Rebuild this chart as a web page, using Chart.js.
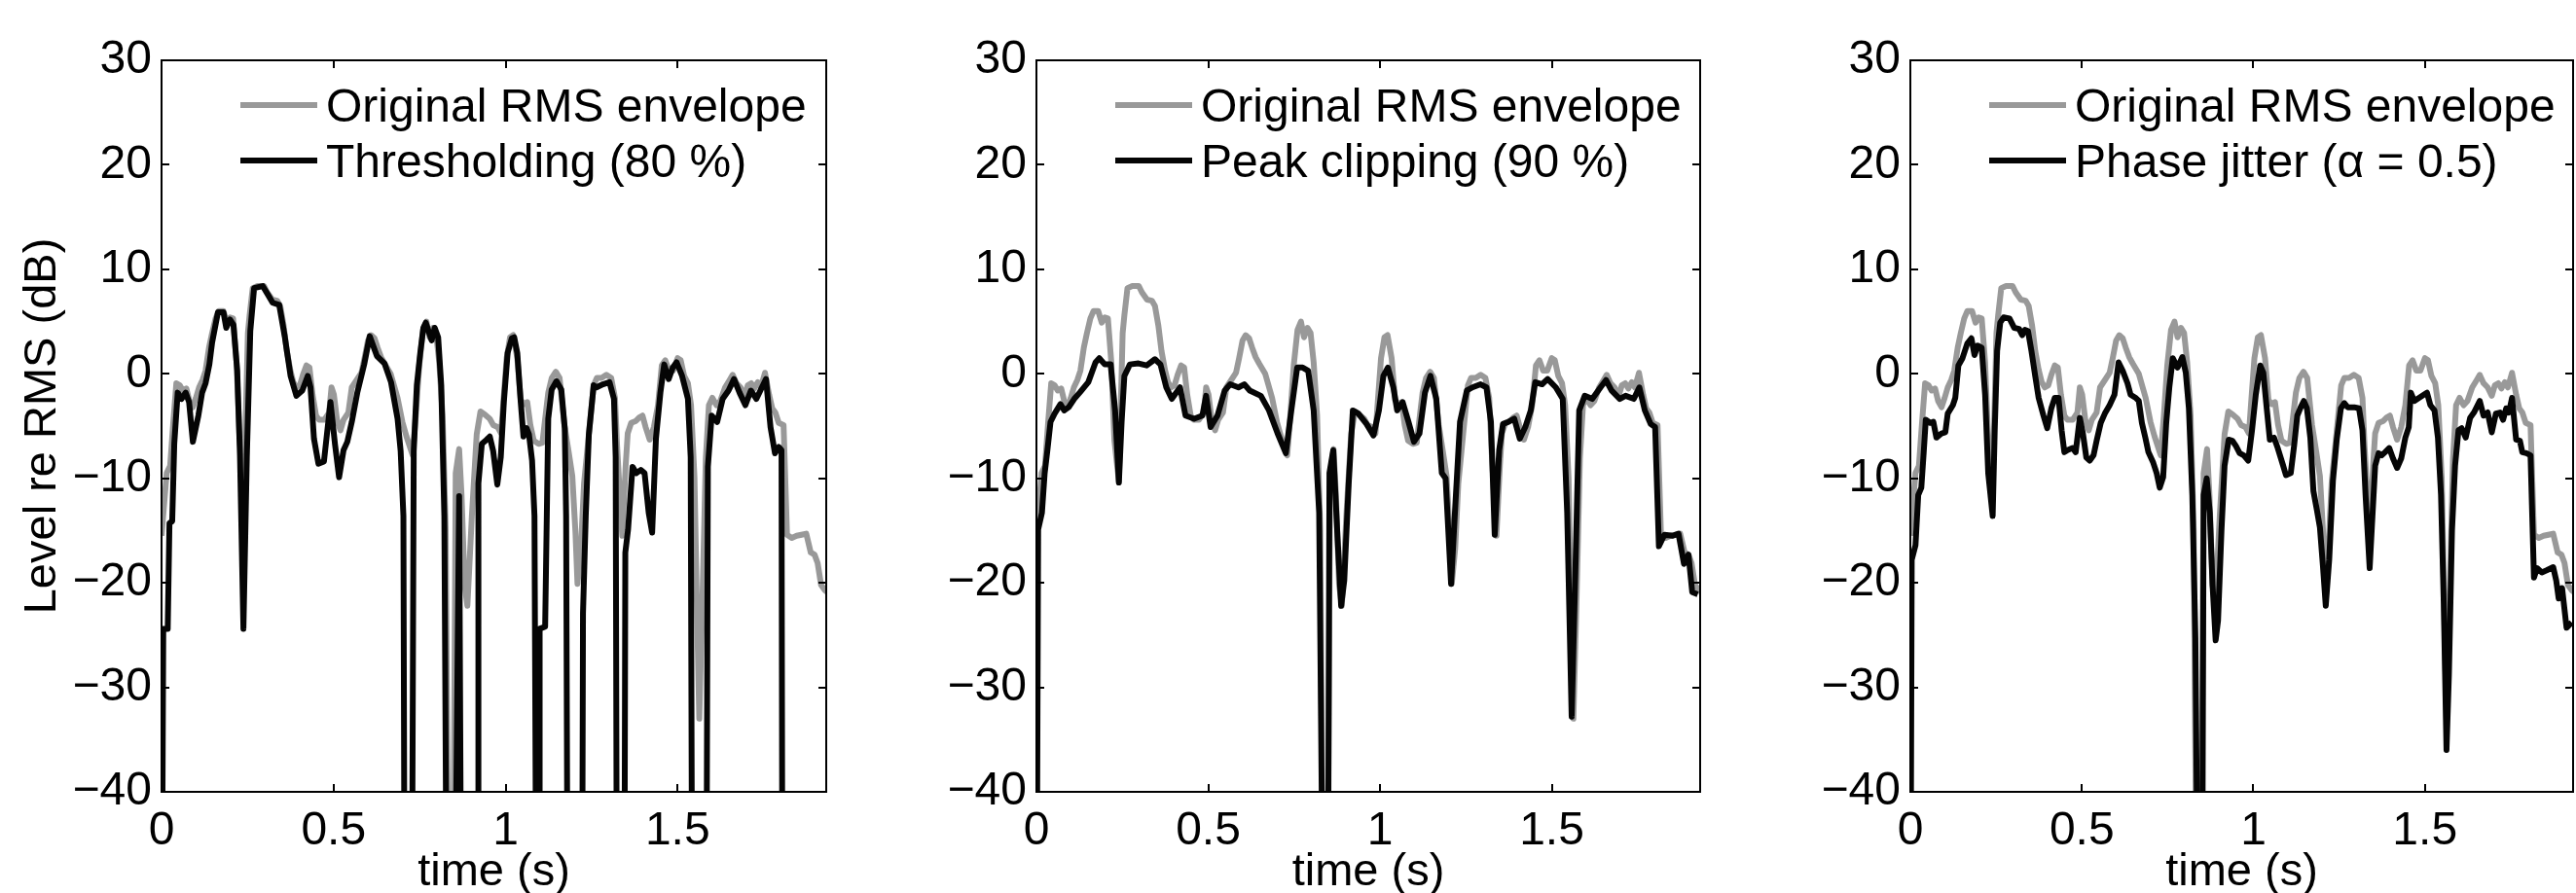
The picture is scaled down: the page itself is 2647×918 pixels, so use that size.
<!DOCTYPE html>
<html>
<head>
<meta charset="utf-8">
<script src="https://cdn.jsdelivr.net/npm/chart.js@4.4.1/dist/chart.umd.min.js"></script>
<style>
html,body{margin:0;padding:0;background:#fff;width:2647px;height:918px;overflow:hidden;position:relative;}
canvas{position:absolute;top:0;}
</style>
</head>
<body>
<canvas id="c1" width="880" height="940" style="left:0px"></canvas>
<canvas id="c2" width="880" height="940" style="left:900px"></canvas>
<canvas id="c3" width="849" height="940" style="left:1798px"></canvas>
<script>
// ---------- data ----------
const xTickValues = [0, 0.5, 1, 1.5];
const xTickLabels = ['0', '0.5', '1', '1.5'];
const yTickValues = [-40, -30, -20, -10, 0, 10, 20, 30];
const yTickLabels = ['\u221240', '\u221230', '\u221220', '\u221210', '0', '10', '20', '30'];
const xAxisTitle = 'time (s)';
const yAxisTitle = 'Level re RMS (dB)';
const originalLabel = 'Original RMS envelope';
const processLabels = ['Thresholding (80 %)', 'Peak clipping (90 %)', 'Phase jitter (\u03b1 = 0.5)'];

// values below -40 dB run off the bottom of the axes
const origTime = [0.000,0.015,0.025,0.034,0.043,0.053,0.062,0.072,0.081,0.091,0.100,0.109,0.119,0.128,0.138,0.147,0.157,0.166,0.180,0.190,0.199,0.208,0.218,0.227,0.240,0.251,0.256,0.265,0.279,0.298,0.307,0.322,0.336,0.345,0.355,0.364,0.374,0.383,0.392,0.402,0.411,0.421,0.430,0.439,0.449,0.458,0.473,0.487,0.494,0.501,0.510,0.520,0.529,0.543,0.553,0.567,0.581,0.590,0.600,0.609,0.619,0.628,0.638,0.648,0.666,0.686,0.700,0.712,0.730,0.739,0.749,0.760,0.770,0.779,0.789,0.798,0.807,0.817,0.826,0.836,0.846,0.855,0.865,0.872,0.881,0.889,0.902,0.916,0.927,0.940,0.954,0.964,0.977,0.987,0.994,1.003,1.013,1.022,1.034,1.044,1.053,1.063,1.072,1.082,1.096,1.107,1.115,1.124,1.134,1.146,1.157,1.171,1.183,1.194,1.203,1.209,1.219,1.228,1.242,1.256,1.265,1.279,1.293,1.307,1.318,1.324,1.332,1.339,1.349,1.355,1.365,1.379,1.388,1.398,1.407,1.419,1.431,1.443,1.454,1.464,1.475,1.487,1.500,1.509,1.519,1.530,1.539,1.549,1.556,1.563,1.572,1.582,1.591,1.601,1.613,1.624,1.638,1.651,1.660,1.671,1.683,1.695,1.704,1.714,1.723,1.733,1.742,1.754,1.766,1.775,1.784,1.794,1.808,1.818,1.832,1.846,1.860,1.874,1.887,1.898,1.907,1.917,1.928,1.935];
const origLevel = [-15.5,-9.5,-8.8,-4.7,-0.9,-1.1,-1.6,-1.4,-2.6,-3.2,-2.3,-1.3,-0.6,0.3,2.5,3.9,5.3,6.0,6.0,4.9,5.4,5.3,1.1,-6.4,-10.3,3.9,5.6,8.2,8.4,8.4,7.8,7.1,7.0,6.5,4.6,2.2,0.4,-0.8,-1.3,-1.1,-0.1,0.8,0.6,-2.0,-4.0,-4.4,-4.4,-3.7,-1.3,-2.0,-4.4,-5.4,-4.4,-3.7,-1.3,-0.6,0.1,1.5,3.2,3.7,3.4,2.5,1.6,1.0,0.0,-2.3,-4.6,-6.0,-7.8,-4.0,0.8,4.2,5.0,3.5,4.4,3.9,1.1,-4.0,-15.0,-60,-60,-9.5,-7.2,-11.6,-20.2,-22.2,-13.6,-5.8,-3.6,-3.9,-4.3,-4.9,-5.1,-5.7,-2.5,1.5,3.5,3.7,1.5,-2.5,-2.9,-2.7,-4.9,-6.4,-6.7,-6.6,-4.3,-1.8,-0.4,0.2,-0.4,-4.9,-7.4,-9.8,-15.1,-20.1,-16.7,-10.5,-5.8,-1.1,-0.4,-0.4,-0.1,-0.4,-2.3,-6.8,-11.6,-15.5,-8.8,-5.7,-4.7,-4.5,-4.2,-4.0,-5.1,-6.3,-5.1,-3.0,0.8,1.3,0.3,0.3,1.5,1.3,-0.2,-0.9,-3.0,-9.9,-21.9,-33.0,-21.9,-8.1,-3.0,-2.3,-3.0,-2.6,-1.3,-0.6,-0.1,-0.9,-1.3,-2.1,-1.1,-0.9,-1.4,-0.8,-1.3,0.1,-2.0,-3.3,-3.7,-4.7,-4.9,-15.4,-15.7,-15.5,-15.4,-15.3,-17.1,-17.3,-18.1,-20.2,-20.7,-20.9];

const thrTime = [0.000,0.005,0.018,0.023,0.031,0.037,0.047,0.058,0.070,0.080,0.091,0.107,0.118,0.128,0.139,0.147,0.164,0.180,0.188,0.199,0.209,0.220,0.228,0.238,0.248,0.258,0.269,0.294,0.307,0.323,0.342,0.358,0.375,0.392,0.409,0.425,0.433,0.443,0.456,0.472,0.491,0.504,0.516,0.529,0.540,0.553,0.569,0.589,0.605,0.626,0.648,0.667,0.686,0.695,0.703,0.707,0.727,0.733,0.742,0.752,0.761,0.768,0.785,0.794,0.804,0.813,0.822,0.830,0.851,0.865,0.872,0.920,0.921,0.931,0.945,0.954,0.964,0.976,0.986,0.995,1.006,1.018,1.025,1.034,1.044,1.052,1.061,1.068,1.077,1.084,1.090,1.098,1.099,1.115,1.124,1.134,1.148,1.162,1.172,1.176,1.181,1.222,1.225,1.233,1.242,1.256,1.264,1.283,1.302,1.315,1.320,1.324,1.345,1.348,1.356,1.369,1.380,1.393,1.404,1.416,1.426,1.437,1.450,1.461,1.474,1.486,1.497,1.513,1.530,1.538,1.543,1.583,1.588,1.599,1.615,1.631,1.648,1.664,1.680,1.697,1.713,1.729,1.745,1.757,1.770,1.783,1.794,1.802,1.805,1.935];
const thrLevel = [-60,-24.4,-24.4,-14.3,-14.1,-6.7,-1.8,-2.4,-1.8,-2.7,-6.5,-4.0,-1.8,-0.9,0.9,3.0,5.9,5.9,4.4,5.2,4.7,0.3,-7.8,-24.4,-7.8,4.1,8.2,8.4,7.7,6.8,6.6,3.6,-0.2,-2.1,-1.6,-0.2,-1.3,-6.2,-8.6,-8.4,-2.7,-6.7,-9.9,-7.3,-6.5,-4.6,-1.8,0.9,3.6,1.7,1.0,-0.8,-4.3,-7.4,-13.6,-60,-60,-7.4,-1.1,2.0,4.4,4.9,3.2,4.4,3.5,-1.1,-13.6,-60,-60,-11.7,-60,-60,-10.5,-6.7,-6.3,-6.0,-7.4,-10.6,-8.0,-2.7,2.0,3.4,3.5,2.0,-2.7,-6.0,-5.2,-5.8,-8.3,-13.6,-60,-60,-24.4,-24.2,-4.3,-1.5,-0.7,-1.5,-5.2,-13.6,-60,-60,-22.9,-13.6,-5.8,-1.1,-1.3,-1.0,-0.8,-2.4,-8.0,-60,-60,-17.1,-14.9,-8.9,-9.5,-9.2,-9.5,-13.3,-15.2,-6.2,-1.8,0.9,-0.5,0.6,1.1,-0.2,-2.4,-8.0,-60,-60,-8.9,-4.0,-4.6,-2.4,-1.6,-0.5,-1.8,-3.0,-1.6,-2.4,-1.3,-0.5,-5.1,-7.6,-7.0,-7.3,-60,-60];

const peakTime = [0.000,0.005,0.016,0.024,0.032,0.041,0.053,0.070,0.081,0.094,0.110,0.126,0.151,0.172,0.183,0.199,0.216,0.229,0.240,0.248,0.256,0.272,0.297,0.321,0.345,0.361,0.378,0.394,0.418,0.434,0.459,0.483,0.494,0.507,0.527,0.548,0.564,0.588,0.605,0.621,0.653,0.677,0.702,0.726,0.742,0.759,0.775,0.791,0.807,0.823,0.836,0.848,0.853,0.864,0.877,0.887,0.896,0.909,0.921,0.937,0.961,0.981,0.997,1.010,1.023,1.039,1.050,1.066,1.083,1.099,1.115,1.131,1.147,1.164,1.180,1.191,1.207,1.220,1.233,1.253,1.269,1.293,1.310,1.323,1.334,1.347,1.358,1.374,1.391,1.407,1.423,1.439,1.452,1.472,1.488,1.512,1.532,1.545,1.558,1.569,1.580,1.596,1.618,1.642,1.658,1.674,1.698,1.715,1.739,1.755,1.771,1.788,1.801,1.812,1.828,1.852,1.869,1.885,1.898,1.909,1.925];
const peakLevel = [-60,-14.9,-13.3,-9.5,-7.3,-4.6,-3.8,-2.9,-3.5,-3.2,-2.4,-1.8,-0.8,1.1,1.5,0.9,0.9,-3.5,-10.4,-4.6,-0.2,0.9,1.0,0.8,1.4,0.9,-1.3,-2.4,-1.3,-4.0,-4.3,-4.0,-2.1,-5.1,-4.0,-1.6,-1.0,-1.3,-1.0,-1.6,-2.1,-3.5,-5.7,-7.6,-3.5,0.6,0.6,0.3,-3.5,-13.3,-60,-60,-9.5,-7.3,-16,-22.2,-19.8,-10.5,-3.5,-3.8,-4.8,-5.9,-3.5,-0.2,0.6,-1.3,-3.5,-2.7,-4.6,-6.5,-5.7,-1.8,-0.2,-2.4,-9.5,-10.0,-20.1,-12.2,-4.6,-1.6,-1.3,-1.0,-1.3,-4.6,-15.4,-7.3,-4.8,-4.6,-4.3,-6.2,-5.1,-3.5,-0.8,-1.0,-0.5,-1.3,-2.4,-13.3,-32.8,-18.7,-3.5,-2.1,-2.4,-1.3,-0.6,-1.6,-2.4,-2.1,-2.4,-1.3,-3.5,-4.8,-5.1,-16.5,-15.4,-15.5,-15.3,-18.2,-17.3,-20.9,-21.1];

const jitTime = [0.000,0.004,0.015,0.023,0.032,0.039,0.045,0.058,0.067,0.076,0.091,0.102,0.109,0.124,0.131,0.140,0.152,0.166,0.178,0.187,0.196,0.208,0.218,0.227,0.240,0.246,0.253,0.262,0.272,0.289,0.303,0.317,0.326,0.334,0.343,0.353,0.364,0.374,0.388,0.399,0.411,0.421,0.432,0.441,0.449,0.458,0.473,0.482,0.494,0.503,0.513,0.523,0.534,0.543,0.555,0.567,0.581,0.595,0.607,0.619,0.633,0.642,0.657,0.666,0.675,0.685,0.694,0.708,0.718,0.727,0.737,0.746,0.755,0.765,0.779,0.793,0.803,0.812,0.822,0.831,0.840,0.850,0.855,0.864,0.873,0.881,0.890,0.897,0.907,0.916,0.928,0.939,0.949,0.960,0.972,0.985,0.996,1.007,1.020,1.029,1.038,1.048,1.060,1.071,1.086,1.095,1.109,1.119,1.128,1.138,1.147,1.156,1.166,1.175,1.185,1.194,1.203,1.211,1.221,1.232,1.243,1.255,1.265,1.275,1.294,1.308,1.318,1.327,1.339,1.346,1.355,1.365,1.374,1.384,1.396,1.407,1.419,1.431,1.443,1.453,1.459,1.469,1.483,1.497,1.506,1.516,1.528,1.538,1.547,1.555,1.563,1.570,1.579,1.588,1.598,1.607,1.619,1.632,1.643,1.660,1.671,1.683,1.695,1.707,1.719,1.728,1.737,1.745,1.754,1.766,1.777,1.784,1.796,1.808,1.818,1.827,1.841,1.855,1.874,1.883,1.890,1.900,1.913,1.928];
const jitLevel = [-60,-17.8,-16.4,-11.6,-10.9,-7.5,-4.4,-4.7,-4.6,-6.1,-5.7,-5.6,-3.8,-3.0,-2.3,0.8,1.5,2.9,3.4,1.8,2.7,2.5,-2.0,-9.5,-13.6,-5.4,2.2,4.9,5.4,5.3,4.4,4.3,3.7,4.2,4.1,2.2,-0.2,-2.3,-4.0,-5.2,-3.3,-2.3,-2.3,-5.4,-7.5,-7.3,-7.1,-7.5,-4.2,-5.7,-8.0,-8.3,-7.8,-6.4,-4.7,-3.8,-3.0,-2.0,1.1,0.3,-0.9,-2.0,-2.3,-2.6,-4.7,-6.1,-7.5,-8.5,-9.5,-10.9,-9.9,-4.7,-1.3,1.5,0.6,1.6,0.1,-3.3,-11.6,-25.3,-60,-60,-11.6,-10.0,-13.3,-20.2,-25.5,-23.6,-15.0,-8.8,-6.3,-6.4,-6.9,-7.6,-7.8,-8.3,-5.4,-2.0,0.8,0.1,-3.0,-6.3,-6.1,-7.1,-8.7,-9.7,-9.5,-6.8,-4.0,-3.2,-2.6,-3.3,-6.1,-11.2,-13.0,-14.7,-18.5,-22.2,-17.8,-10.2,-6.3,-3.3,-2.8,-3.2,-3.2,-3.3,-5.4,-11.6,-18.6,-14.3,-8.8,-7.6,-7.8,-7.5,-7.1,-8.1,-9.0,-8.1,-6.1,-5.1,-1.8,-2.6,-2.3,-2.0,-1.8,-3.0,-3.5,-6.1,-11.6,-21.9,-36,-28.8,-15.0,-8.8,-5.4,-5.2,-6.1,-4.2,-3.7,-2.6,-4.0,-3.7,-5.6,-3.8,-3.7,-4.4,-3.3,-3.7,-2.3,-6.3,-6.4,-7.5,-7.6,-7.8,-19.5,-18.6,-19.0,-18.8,-18.5,-19.8,-21.5,-20.5,-24.3,-23.8];

// ---------- rendering ----------
const FONT = '"Liberation Sans", Arial, Helvetica, sans-serif';
const GRAY = '#999999';
const BLACK = '#050505';

function toPoints(ts, vs) { return ts.map((t, i) => ({ x: t, y: vs[i] })); }

const framePlugin = {
  id: 'frame',
  afterDatasetsDraw(chart) {
    const { ctx, chartArea: a, scales: { x, y } } = chart;
    ctx.save();
    ctx.strokeStyle = '#000';
    ctx.lineWidth = 2;
    ctx.strokeRect(a.left, a.top, a.right - a.left, a.bottom - a.top);
    ctx.beginPath();
    xTickValues.forEach(v => {
      const px = Math.round(x.getPixelForValue(v));
      ctx.moveTo(px, a.bottom); ctx.lineTo(px, a.bottom - 8);
      ctx.moveTo(px, a.top); ctx.lineTo(px, a.top + 8);
    });
    yTickValues.forEach(v => {
      const py = Math.round(y.getPixelForValue(v));
      ctx.moveTo(a.left, py); ctx.lineTo(a.left + 8, py);
      ctx.moveTo(a.right, py); ctx.lineTo(a.right - 8, py);
    });
    ctx.stroke();
    // legend inside the axes
    ctx.font = '48px ' + FONT;
    ctx.textAlign = 'left';
    ctx.textBaseline = 'alphabetic';
    chart.data.datasets.forEach((d, i) => {
      const ly = a.top + 46 + i * 57;
      ctx.strokeStyle = d.borderColor;
      ctx.lineWidth = 6;
      ctx.lineCap = 'butt';
      ctx.beginPath();
      ctx.moveTo(a.left + 81, ly);
      ctx.lineTo(a.left + 160, ly);
      ctx.stroke();
      ctx.fillStyle = '#000';
      ctx.fillText(d.label, a.left + 169, ly + 17);
    });
    ctx.restore();
  }
};

function makeChart(id, procTime, procLevel, procLabel, showYTitle, yAxisWidth, padRight) {
  return new Chart(document.getElementById(id), {
    type: 'line',
    data: {
      datasets: [
        { label: originalLabel, data: toPoints(origTime, origLevel), borderColor: GRAY, borderWidth: 6,
          pointRadius: 0, fill: false, tension: 0, order: 1, borderJoinStyle: 'round', clip: 0 },
        { label: procLabel, data: toPoints(procTime, procLevel), borderColor: BLACK, borderWidth: 6,
          pointRadius: 0, fill: false, tension: 0, order: 0, borderJoinStyle: 'round', clip: 0 }
      ]
    },
    options: {
      responsive: false,
      animation: false,
      events: [],
      parsing: false,
      layout: { padding: { left: 0, top: 62, right: padRight, bottom: 0 } },
      plugins: { legend: { display: false }, tooltip: { enabled: false } },
      scales: {
        x: {
          type: 'linear', min: 0, max: 1.932,
          afterBuildTicks: s => { s.ticks = xTickValues.map(v => ({ value: v })); },
          afterFit: s => { s.height = 126; },
          grid: { display: false, drawTicks: false },
          border: { display: false },
          ticks: { autoSkip: false, maxRotation: 0, padding: 12, color: '#000',
                   font: { family: FONT, size: 48 },
                   callback: v => xTickLabels[xTickValues.indexOf(v)] },
          title: { display: true, text: xAxisTitle, color: '#000', font: { family: FONT, size: 47 },
                   padding: { top: 0, bottom: 15 } }
        },
        y: {
          type: 'linear', min: -40, max: 30,
          afterBuildTicks: s => { s.ticks = yTickValues.map(v => ({ value: v })); },
          afterFit: s => { s.width = yAxisWidth; },
          grid: { display: false, drawTicks: false },
          border: { display: false },
          ticks: { autoSkip: false, padding: 10, color: '#000',
                   font: { family: FONT, size: 48 },
                   callback: v => yTickLabels[yTickValues.indexOf(v)] },
          title: { display: showYTitle, text: yAxisTitle, color: '#000', font: { family: FONT, size: 47 },
                   padding: { top: 16, bottom: 0 } }
        }
      }
    },
    plugins: [framePlugin]
  });
}

makeChart('c1', thrTime, thrLevel, processLabels[0], true, 166, 31);
makeChart('c2', peakTime, peakLevel, processLabels[1], false, 165, 33);
makeChart('c3', jitTime, jitLevel, processLabels[2], false, 165, 3);
</script>
</body>
</html>
